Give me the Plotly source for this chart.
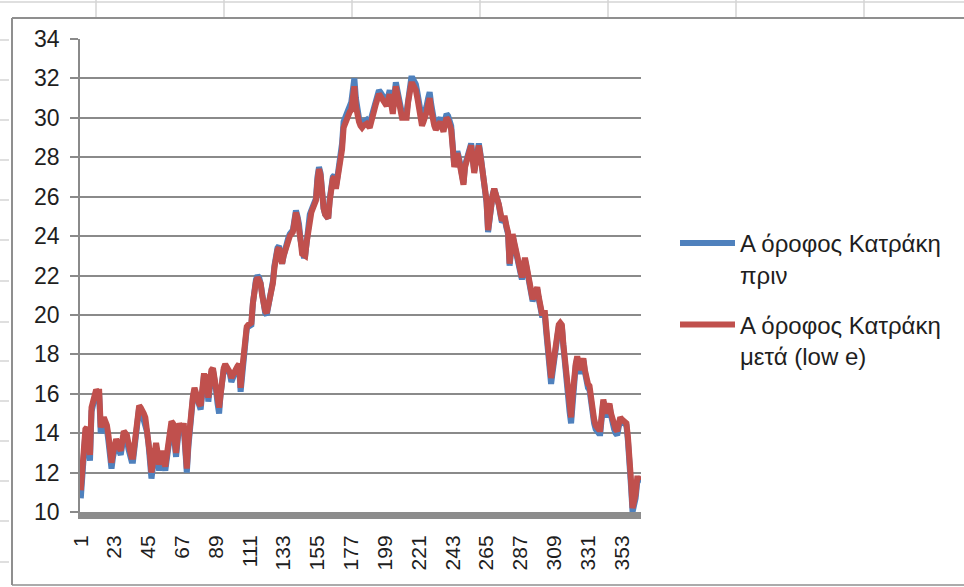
import plotly.graph_objects as go

# ---------------- data ----------------
series_names = ["Α όροφος Κατράκη<br>πριν", "Α όροφος Κατράκη<br>μετά (low e)"]
series_colors = ["#4F81BD", "#C0504D"]

before = [
    10.7, 12.3, 13.8, 14.0, 14.1, 13.2, 12.6, 15.1, 15.5, 15.9,
    16.1, 16.0, 15.9, 14.0, 14.3, 14.6, 14.4, 14.2, 13.6, 12.9,
    12.2, 12.8, 13.3, 13.5, 13.3, 13.1, 12.9, 13.4, 13.9, 13.8,
    13.7, 13.2, 12.8, 12.6, 12.6, 13.2, 14.0, 14.8, 15.3, 15.2,
    14.9, 14.9, 14.6, 14.1, 13.5, 12.6, 11.7, 12.3, 12.9, 13.3,
    12.8, 12.1, 12.6, 12.9, 12.5, 12.1, 12.7, 13.4, 14.0, 14.4,
    14.3, 13.5, 12.8, 13.6, 14.3, 14.1, 14.0, 14.3, 13.1, 12.0,
    13.3, 14.4, 15.1, 15.8, 16.2, 15.9, 15.5, 15.3, 15.2, 16.0,
    16.8, 16.8, 16.7, 15.6, 16.4, 17.1, 17.2, 16.8, 16.2, 15.5,
    15.0, 16.0, 16.9, 17.2, 17.4, 17.3, 17.2, 17.0, 16.6, 16.9,
    17.1, 17.2, 17.3, 17.4, 16.1, 17.1, 17.9, 18.6, 19.3, 19.4,
    19.5, 19.5, 20.6, 21.4, 21.8, 22.0, 21.9, 21.6, 20.9, 20.3,
    20.1, 20.0, 20.4, 21.0, 21.3, 21.7, 22.5, 23.2, 23.4, 23.5,
    23.1, 22.6, 23.0, 23.4, 23.7, 23.9, 24.1, 24.2, 24.3, 24.8,
    25.3, 25.0, 24.6, 23.8, 23.1, 23.0, 23.0, 23.8, 24.5, 25.1,
    25.3, 25.5, 25.7, 25.9, 27.0, 27.5, 27.2, 25.8, 25.4, 25.1,
    25.0, 24.9, 25.9, 26.8, 27.0, 27.1, 26.5, 27.0, 27.5, 28.1,
    28.7, 29.8, 30.1, 30.3, 30.4, 30.6, 30.8, 31.4, 32.0, 31.0,
    30.2, 30.0, 29.8, 29.7, 29.8, 29.9, 29.9, 29.8, 29.7, 30.0,
    30.3, 30.7, 31.0, 31.3, 31.4, 31.3, 31.2, 31.0, 30.9, 30.8,
    31.1, 31.4, 30.9, 30.4, 31.1, 31.8, 31.4, 31.0, 30.6, 30.2,
    30.2, 30.2, 30.3, 31.1, 31.9, 32.0, 32.0, 31.9, 31.7, 31.3,
    30.9, 30.4, 29.9, 30.1, 30.3, 30.6, 31.0, 31.3, 30.7, 30.0,
    29.8, 29.6, 29.7, 29.9, 30.0, 29.7, 29.5, 29.9, 30.2, 30.1,
    29.9, 29.6, 28.6, 27.6, 27.9, 28.3, 28.0, 27.6, 27.1, 26.7,
    27.6, 27.9, 28.2, 28.5, 28.7, 28.0, 27.3, 27.8, 28.3, 28.7,
    28.2, 27.5, 27.0, 26.4, 25.7, 24.2, 24.9, 25.7, 26.1, 26.4,
    26.2, 26.0, 25.6, 25.1, 24.7, 24.8, 24.8, 24.4, 24.1, 22.5,
    23.3, 24.0, 23.6, 23.2, 22.8, 22.5, 22.1, 21.8, 22.3, 22.8,
    22.4, 22.0, 21.4, 21.0, 20.7, 20.9, 21.1, 21.3, 20.8, 20.4,
    20.0, 20.0, 19.9, 19.0, 18.1, 17.3, 16.5, 17.1, 17.8, 18.6,
    19.3, 19.4, 19.5, 19.4, 18.4, 17.4, 16.6, 15.8, 15.1, 14.5,
    15.7, 16.9, 17.4, 17.8, 17.4, 17.0, 17.4, 17.7, 17.1, 16.5,
    16.3, 16.2, 15.5, 14.8, 14.5, 14.2, 14.0, 14.0, 14.0, 14.9,
    15.6, 15.2, 14.8, 15.2, 15.4, 14.9, 14.4, 14.2, 14.0, 13.9,
    14.3, 14.7, 14.6, 14.5, 14.5, 14.4, 13.6, 12.8, 11.3, 10.0,
    10.3, 10.7, 11.5, 11.6, 11.5,
]

after = [
    11.1, 12.6, 14.0, 14.2, 14.3, 13.5, 12.9, 15.3, 15.6, 16.0,
    16.2, 16.1, 16.1, 14.3, 14.6, 14.8, 14.6, 14.4, 13.9, 13.2,
    12.5, 13.0, 13.5, 13.7, 13.5, 13.3, 13.1, 13.6, 14.1, 14.0,
    13.9, 13.5, 13.0, 12.8, 12.8, 13.4, 14.2, 14.9, 15.4, 15.3,
    15.0, 15.0, 14.8, 14.3, 13.8, 12.9, 12.0, 12.6, 13.1, 13.5,
    13.0, 12.4, 12.8, 13.1, 12.7, 12.3, 12.9, 13.6, 14.2, 14.6,
    14.5, 13.8, 13.0, 13.8, 14.5, 14.3, 14.2, 14.5, 13.3, 12.2,
    13.5, 14.6, 15.3, 15.9, 16.3, 16.0, 15.7, 15.5, 15.4, 16.2,
    16.9, 16.9, 16.8, 15.8, 16.6, 17.2, 17.3, 16.9, 16.4, 15.8,
    15.3, 16.2, 17.0, 17.3, 17.5, 17.4, 17.3, 17.1, 16.8, 17.0,
    17.2, 17.3, 17.4, 17.5, 16.3, 17.2, 18.0, 18.7, 19.4, 19.5,
    19.6, 19.6, 20.6, 21.4, 21.7, 21.9, 21.8, 21.6, 21.0, 20.4,
    20.2, 20.1, 20.5, 21.0, 21.3, 21.6, 22.4, 23.1, 23.3, 23.4,
    23.0, 22.6, 23.0, 23.3, 23.6, 23.8, 24.0, 24.1, 24.2, 24.7,
    25.2, 24.9, 24.5, 23.8, 23.1, 23.0, 23.0, 23.7, 24.4, 25.0,
    25.2, 25.4, 25.6, 25.8, 26.8, 27.4, 27.1, 25.8, 25.4, 25.1,
    25.0, 24.9, 25.8, 26.7, 26.9, 27.0, 26.4, 26.9, 27.3, 27.9,
    28.4, 29.5, 29.8, 30.0, 30.1, 30.3, 30.4, 31.0, 31.6, 30.6,
    29.9, 29.8, 29.6, 29.5, 29.6, 29.7, 29.7, 29.6, 29.5, 29.8,
    30.0, 30.4, 30.7, 31.0, 31.2, 31.1, 31.0, 30.8, 30.7, 30.6,
    30.9, 31.2, 30.7, 30.2, 30.9, 31.6, 31.2, 30.8, 30.4, 30.0,
    30.0, 30.0, 30.0, 30.8, 31.6, 31.7, 31.7, 31.6, 31.4, 31.0,
    30.6, 30.1, 29.6, 29.8, 30.0, 30.3, 30.7, 31.0, 30.4, 29.8,
    29.6, 29.4, 29.5, 29.7, 29.8, 29.5, 29.3, 29.7, 30.0, 29.9,
    29.7, 29.4, 28.5, 27.5, 27.8, 28.2, 27.9, 27.5, 27.0, 26.6,
    27.5, 27.8, 28.1, 28.4, 28.6, 27.9, 27.2, 27.7, 28.2, 28.6,
    28.1, 27.5, 27.0, 26.4, 25.8, 24.3, 25.0, 25.8, 26.1, 26.4,
    26.2, 26.0, 25.6, 25.2, 24.8, 24.9, 24.9, 24.5, 24.2, 22.6,
    23.4, 24.1, 23.7, 23.3, 22.9, 22.6, 22.2, 21.9, 22.4, 22.9,
    22.5, 22.1, 21.5, 21.1, 20.8, 21.0, 21.2, 21.4, 20.9, 20.5,
    20.1, 20.1, 20.1, 19.2, 18.4, 17.6, 16.8, 17.3, 17.9, 18.7,
    19.4, 19.5, 19.6, 19.5, 18.5, 17.6, 16.8, 16.0, 15.4, 14.8,
    15.9, 17.0, 17.5, 17.9, 17.5, 17.2, 17.5, 17.8, 17.2, 16.7,
    16.5, 16.4, 15.7, 15.0, 14.7, 14.4, 14.2, 14.2, 14.2, 15.0,
    15.7, 15.3, 15.0, 15.3, 15.5, 15.0, 14.6, 14.4, 14.2, 14.1,
    14.5, 14.8, 14.7, 14.6, 14.6, 14.5, 13.8, 13.0, 11.6, 10.2,
    10.5, 10.9, 11.7, 11.7, 11.6,
]

days = list(range(1, len(after) + 1))
x_tick_labels = ["1", "23", "45", "67", "89", "111", "133", "155", "177",
                 "199", "221", "243", "265", "287", "309", "331", "353"]
y_ticks = [10, 12, 14, 16, 18, 20, 22, 24, 26, 28, 30, 32, 34]

# ---------------- layout geometry (pixels) ----------------
W, H = 964, 587
PL, PR, PT, PB = 80, 641, 39, 512   # plot area in page pixels


def px(x):
    return (x - PL) / (PR - PL)


def py(y):
    return (PB - y) / (PB - PT)


FONT = "Liberation Sans"
GRID = "#8a8a8a"
TXT = "#1e1e1e"

fig = go.Figure()
for i, (name, col, vals) in enumerate(zip(series_names, series_colors, [before, after])):
    fig.add_trace(go.Scatter(
        x=days[:len(vals)], y=vals, mode="lines", name=name,
        legendgroup=f"g{i}",
        line=dict(color=col, width=6),
    ))

shapes = []
# chart object frame
frame = "#8f8f8f"
shapes.append(dict(type="line", xref="paper", yref="paper",
                   x0=px(12), x1=px(980), y0=py(18), y1=py(18),
                   line=dict(color=frame, width=2)))
shapes.append(dict(type="line", xref="paper", yref="paper",
                   x0=px(12), x1=px(12), y0=py(18), y1=py(585),
                   line=dict(color=frame, width=2)))
shapes.append(dict(type="line", xref="paper", yref="paper",
                   x0=px(12), x1=px(980), y0=py(585), y1=py(585),
                   line=dict(color=frame, width=1.5)))
# spreadsheet cells peeking out around the chart
cell = "#d4d4d4"
shapes.append(dict(type="line", xref="paper", yref="paper",
                   x0=px(0), x1=px(980), y0=py(2), y1=py(2),
                   line=dict(color=cell, width=1.5)))
for cx in [96, 224, 352, 480, 608, 736, 864]:
    shapes.append(dict(type="line", xref="paper", yref="paper",
                       x0=px(cx), x1=px(cx), y0=py(0), y1=py(17),
                       line=dict(color=cell, width=1.5)))
for cy in [40, 80, 120, 160, 200, 240, 281, 322, 361, 401, 441, 481, 521, 562]:
    shapes.append(dict(type="line", xref="paper", yref="paper",
                       x0=px(0), x1=px(9), y0=py(cy), y1=py(cy),
                       line=dict(color=cell, width=1.5)))

fig.update_layout(
    width=W, height=H,
    margin=dict(l=PL, r=W - PR, t=PT, b=H - PB, pad=0),
    paper_bgcolor="white", plot_bgcolor="white",
    font=dict(family=FONT, size=22, color=TXT),
    showlegend=True,
    legend=dict(
        x=px(675), y=py(221), xanchor="left", yanchor="top",
        valign="top", font=dict(family=FONT, size=24, color=TXT),
        itemwidth=55, tracegroupgap=16, bgcolor="rgba(0,0,0,0)",
    ),
    shapes=shapes,
    xaxis=dict(
        range=[0.5, len(after) + 0.5],
        tickmode="array",
        tickvals=[int(t) for t in x_tick_labels],
        ticktext=x_tick_labels,
        tickangle=-90,
        showgrid=False, zeroline=False,
        showline=True, linecolor="#8c8c8c", linewidth=7,
        ticks="", ticklabelstandoff=8,
        tickfont=dict(family=FONT, size=21, color=TXT),
    ),
    yaxis=dict(
        range=[10, 34], tickmode="array", tickvals=y_ticks,
        showgrid=True, gridcolor=GRID, gridwidth=1.5,
        zeroline=False,
        showline=True, linecolor=GRID, linewidth=1.5,
        ticks="outside", ticklen=8, tickcolor=GRID, tickwidth=1.5,
        ticklabelstandoff=6,
        tickfont=dict(family=FONT, size=23, color=TXT),
    ),
)

fig.write_html("out.html", config={"displayModeBar": False},
               post_script="document.body.style.margin='0px';")
